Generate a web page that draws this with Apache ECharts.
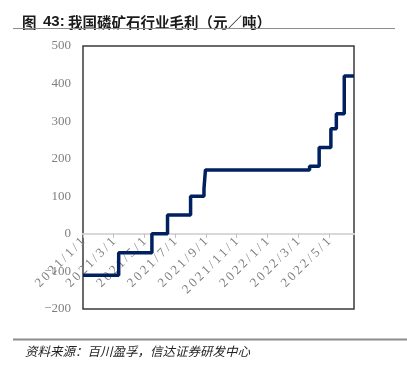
<!DOCTYPE html>
<html>
<head>
<meta charset="utf-8">
<script src="https://cdn.jsdelivr.net/npm/echarts@6/dist/echarts.min.js"></script>
<style>
  html, body { margin: 0; padding: 0; background: #fff; }
  #chart { width: 407px; height: 366px; }
</style>
</head>
<body>
<div id="chart"></div>
<script>
// 磷矿石行业毛利 step changes (date the new level starts, level in 元/吨)
const changeDates = ['2021-01-01', '2021-03-11', '2021-05-16', '2021-06-16', '2021-08-01', '2021-08-28',
  '2021-08-31', '2022-03-24', '2022-04-12', '2022-05-05', '2022-05-16', '2022-06-01', '2022-06-20']
const margins = [-110, -50, 0, 50, 100, 120, 170, 180, 230, 280, 320, 420, 420]
const yTicks = [-200, -100, 0, 100, 200, 300, 400, 500]

const titleFig = '图'
const titleNum = '43:'
const titleText = '我国磷矿石行业毛利（元／吨）'
const sourceText = '资料来源：百川盈孚，信达证券研发中心'

// months since 2021/1/1, each month has equal width like an Excel date axis
function toMonth(s) {
  const [y, m, d] = s.split('-').map(Number)
  const dim = new Date(y, m, 0).getDate()
  return (y - 2021) * 12 + (m - 1) + (d - 1) / dim
}
function monthLabel(v) {
  if (Math.abs(v - Math.round(v)) > 1e-6) return ''
  const y = 2021 + Math.floor(v / 12)
  const m = (v % 12) + 1
  return (y + '/' + m + '/1').split('').join('\u2009')
}

const seriesData = changeDates.map((d, i) => [toMonth(d), margins[i]])
const xMax = toMonth(changeDates[changeDates.length - 1])

const gridTop = 46
const gridBottom = 57
const plotH = 366 - gridTop - gridBottom
const yMin = yTicks[0]
const yMax = yTicks[yTicks.length - 1]
// put the date axis (ticks + labels) on the zero line
const zeroOffset = -plotH * (0 - yMin) / (yMax - yMin)

const titleStyle = { fontSize: 14.5, fontWeight: 'bold', fill: '#1a1a1a', fontFamily: 'Noto Sans CJK SC', verticalAlign: 'middle' }

const chart = echarts.init(document.getElementById('chart'))
chart.setOption({
  backgroundColor: '#fff',
  animation: false,
  graphic: [
    { type: 'text', x: 22, y: 22, style: Object.assign({ text: titleFig }, titleStyle) },
    { type: 'text', x: 43, y: 22, style: Object.assign({}, titleStyle, { text: titleNum, fontFamily: 'Liberation Sans', fontSize: 15 }) },
    { type: 'text', x: 68, y: 22, style: Object.assign({ text: titleText }, titleStyle) },
    { type: 'line', shape: { x1: 13, y1: 28.5, x2: 395, y2: 28.5 }, style: { stroke: '#8c8c8c', lineWidth: 1 } },
    { type: 'line', shape: { x1: 13, y1: 339.5, x2: 407, y2: 339.5 }, style: { stroke: '#8c8c8c', lineWidth: 2 } },
    {
      type: 'text', x: 25, y: 351,
      style: { text: sourceText, fontSize: 12.5, fontStyle: 'italic', fill: '#222', fontFamily: 'Noto Sans CJK SC', verticalAlign: 'middle' },
    },
  ],
  grid: {
    left: 83, right: 53, top: gridTop, bottom: gridBottom,
    show: true, borderColor: '#3a3a3a', borderWidth: 1.5, backgroundColor: 'transparent',
  },
  xAxis: {
    type: 'value',
    min: 0,
    max: xMax,
    interval: 2,
    position: 'bottom',
    offset: zeroOffset,
    splitLine: { show: false },
    axisLine: { onZero: false, lineStyle: { color: '#d9d9d9', width: 2 } },
    axisTick: { show: true, length: 4, lineStyle: { color: '#bfbfbf' } },
    axisLabel: {
      rotate: 45,
      margin: 6,
      showMaxLabel: false,
      color: '#7f7f7f',
      fontSize: 13,
      fontFamily: 'Liberation Serif',
      formatter: monthLabel,
    },
  },
  yAxis: {
    type: 'value',
    min: yMin,
    max: yMax,
    interval: 100,
    splitLine: { show: false },
    axisLine: { show: false },
    axisTick: { show: false },
    axisLabel: {
      margin: 12,
      color: '#7f7f7f',
      fontSize: 13,
      fontFamily: 'Liberation Serif',
      formatter: (v) => (v < 0 ? '\u2212' + Math.abs(v) : String(v)),
    },
  },
  series: [
    {
      type: 'line',
      step: 'end',
      data: seriesData,
      showSymbol: false,
      lineStyle: { color: '#002060', width: 3.5 },
      itemStyle: { color: '#002060' },
    },
  ],
})
</script>
</body>
</html>
